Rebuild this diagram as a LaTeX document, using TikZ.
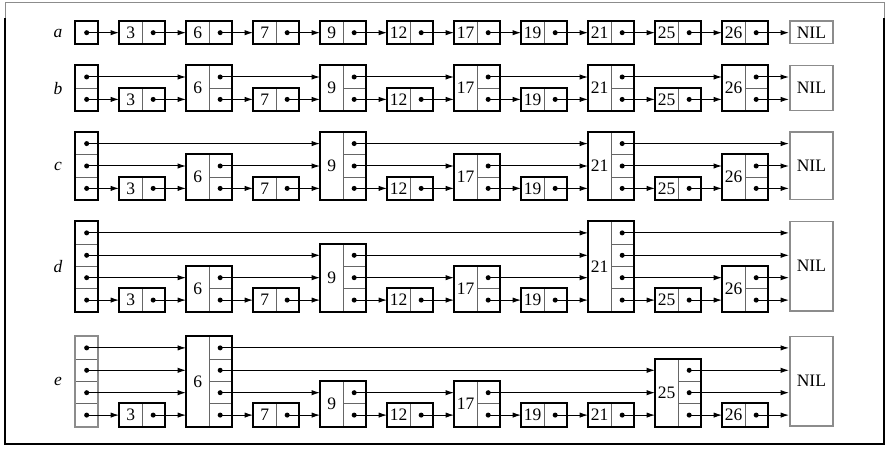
\documentclass[tikz,border=0pt]{standalone}
\usepackage{fontspec}
\setmainfont{Liberation Serif}
\usetikzlibrary{arrows.meta}

\begin{document}
\begin{tikzpicture}[x=0.6pt, y=-0.6pt,
  keypart/.style={draw=black!60, line width=0.5pt, inner sep=0pt, minimum width=13.5pt, anchor=south west, font=\fontsize{10.5}{10.5}\selectfont},
  cell/.style={draw=black!60, line width=0.5pt, inner sep=0pt, minimum width=13.5pt, minimum height=13.44pt, anchor=south west},
  rim/.style={line width=1.2pt},
  nilbox/.style={draw=black!45, line width=0.9pt, inner sep=0pt, minimum width=26pt, anchor=south west, font=\fontsize{10.5}{10.5}\selectfont},
  ptr/.style={-{Latex[length=5pt,width=3.2pt]}, line width=0.6pt},
  rowname/.style={font=\itshape\fontsize{10.5}{10.5}\selectfont}
]
\useasboundingbox (0,0) rectangle (886,449);
% frame
\draw[black!45, line width=0.6pt] (5,2.5) rectangle (884,443.5);
\draw[line width=1.2pt] (5,18) |- (884,443.5) -- (884,18);

% the five lists: name / bottom / head levels / head colour / key-level pairs
\foreach \rw/\yb/\hl/\hc/\nodes in {
  a/44.3/1/black/{3/1,6/1,7/1,9/1,12/1,17/1,19/1,21/1,25/1,26/1},
  b/111/2/black/{3/1,6/2,7/1,9/2,12/1,17/2,19/1,21/2,25/1,26/2},
  c/200/3/black/{3/1,6/2,7/1,9/3,12/1,17/2,19/1,21/3,25/1,26/2},
  d/311.7/4/black/{3/1,6/2,7/1,9/3,12/1,17/2,19/1,21/4,25/1,26/2},
  e/426.7/4/black!45/{3/1,6/4,7/1,9/2,12/1,17/2,19/1,21/1,25/3,26/1}}{
  \node[rowname] (\rw lab) at (58,{\yb-\hl*11.2}) {\rw};
  % head
  \foreach \j in {1,...,\hl}{
    \node[cell] (\rw h-\j) at (75,{\yb-22.4*(\j-1)}) {};
    \fill (\rw h-\j) circle (1.5pt);
  }
  \draw[rim, draw=\hc] (\rw h-1.south west) rectangle (\rw h-\hl.north east);
  % keys
  \foreach \key/\lev [count=\n] in \nodes {
    \pgfmathsetmacro\xl{119+67*(\n-1)}
    \node[keypart, minimum height=\lev*13.44pt] (\rw\key) at (\xl,\yb) {\key};
    \foreach \j in {1,...,\lev}{
      \node[cell] (\rw\key-\j) at ({\xl+22.5},{\yb-22.4*(\j-1)}) {};
      \fill (\rw\key-\j) circle (1.5pt);
    }
    \draw[rim] (\rw\key.south west) rectangle (\rw\key-\lev.north east);
  }
  \node[nilbox, minimum height=\hl*13.44pt] (\rw nil) at (789,\yb) {NIL};
}

% level 1 pointers
\foreach \rw in {a,b,c,d,e}
  \foreach \t [remember=\t as \s (initially h)] in {3,6,7,9,12,17,19,21,25,26,nil}
    \draw[ptr] (\rw\s-1.center) -- (\rw\t.west |- \rw\s-1.center);

% upper pointers
\foreach \rw/\lv/\chain in {b/2/{6,9,17,21,26,nil}, c/2/{6,9,17,21,26,nil},
    c/3/{9,21,nil}, d/2/{6,9,17,21,26,nil}, d/3/{9,21,nil}, d/4/{21,nil},
    e/2/{6,9,17,25,nil}, e/3/{6,25,nil}, e/4/{6,nil}}
  \foreach \t [remember=\t as \s (initially h)] in \chain
    \draw[ptr] (\rw\s-\lv.center) -- (\rw\t.west |- \rw\s-\lv.center);
\end{tikzpicture}
\end{document}
